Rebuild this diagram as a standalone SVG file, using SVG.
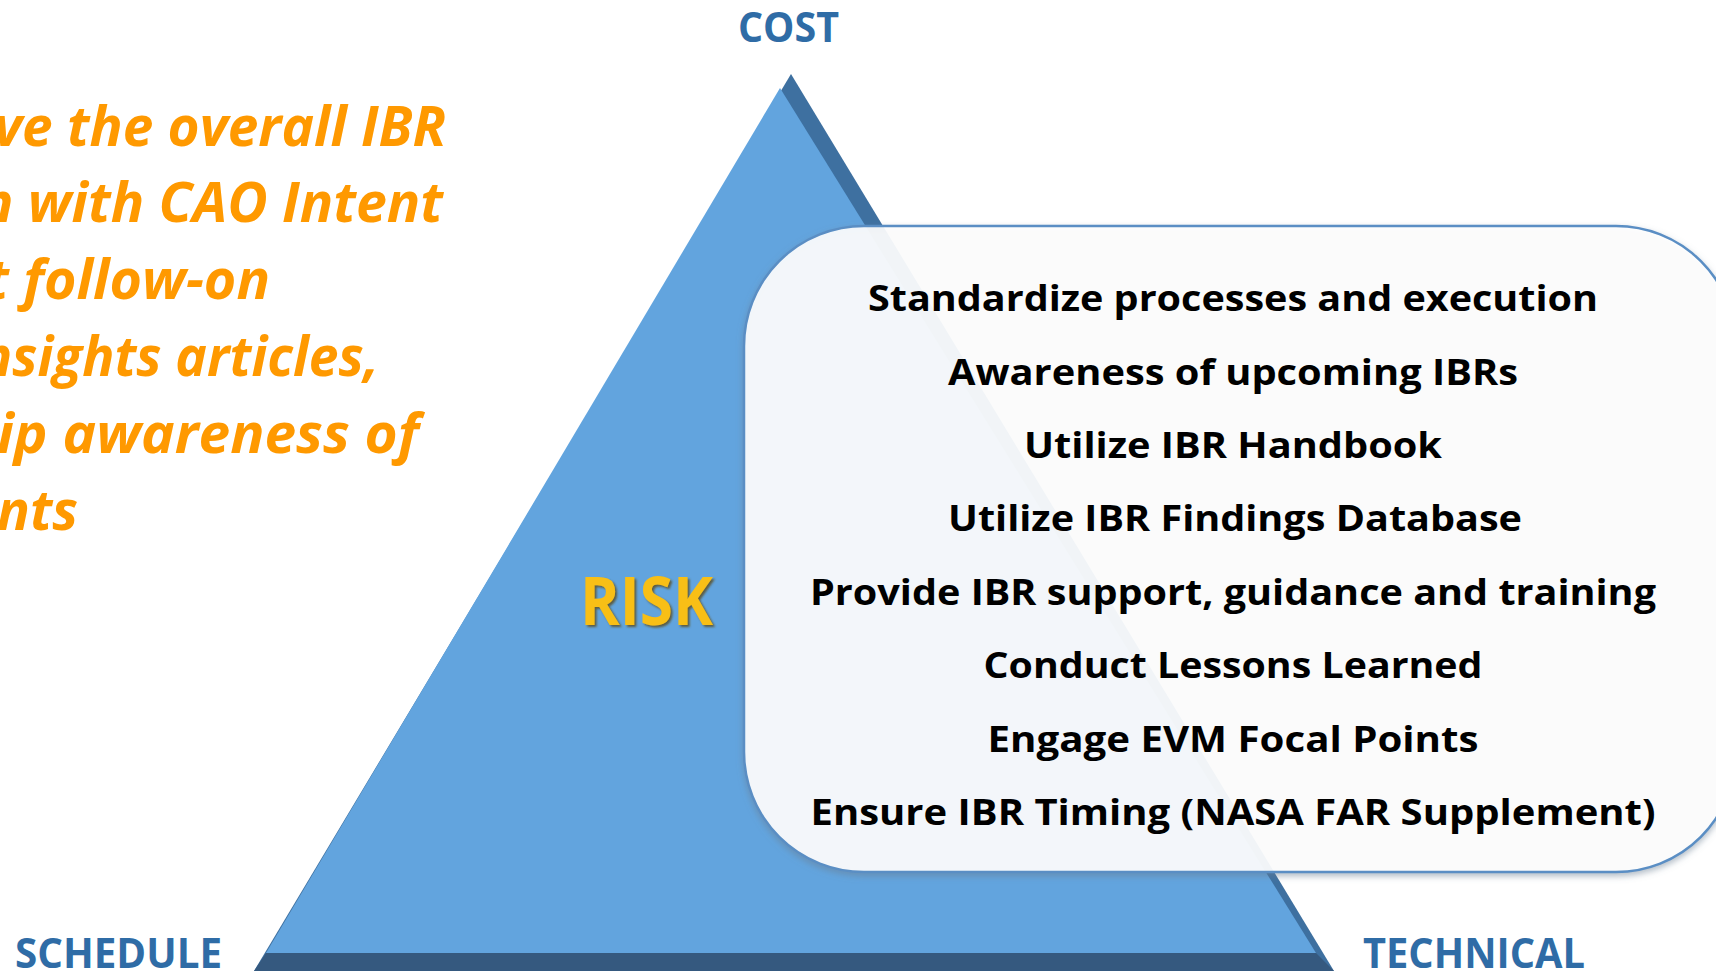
<svg xmlns="http://www.w3.org/2000/svg" width="1716" height="971" viewBox="0 0 1716 971">
<defs>
<style>
.lbl{font-family:"Open Sans","Liberation Sans",sans-serif;font-weight:700;fill:#2f6ca6;font-size:42px}
.item{font-family:"Open Sans","Liberation Sans",sans-serif;font-weight:700;fill:#000;font-size:35px;text-anchor:middle}
.goal{font-family:"Open Sans","Liberation Sans",sans-serif;font-weight:700;font-style:italic;fill:#ff9900;font-size:56px}
</style>
<filter id="boxShadow" x="-5%" y="-5%" width="110%" height="115%">
<feDropShadow dx="0" dy="3" stdDeviation="3" flood-color="#6a7d92" flood-opacity="0.55"/>
</filter>
<filter id="riskShadow" x="-10%" y="-20%" width="130%" height="150%">
<feDropShadow dx="2" dy="2" stdDeviation="1.2" flood-color="#5a4a18" flood-opacity="0.8"/>
</filter>
</defs>
<rect width="1716" height="971" fill="#ffffff"/>

<g id="goal-text">
<text class="goal" x="-6" y="146" textLength="452" lengthAdjust="spacingAndGlyphs">ve the overall IBR</text>
<text class="goal" x="-20" y="222" textLength="463" lengthAdjust="spacingAndGlyphs">n with CAO Intent</text>
<text class="goal" x="-14" y="299" textLength="284" lengthAdjust="spacingAndGlyphs">t follow-on</text>
<text class="goal" x="-20" y="376" textLength="399" lengthAdjust="spacingAndGlyphs">nsights articles,</text>
<text class="goal" x="-3" y="453" textLength="422" lengthAdjust="spacingAndGlyphs">ip awareness of</text>
<text class="goal" x="-3" y="530" textLength="81" lengthAdjust="spacingAndGlyphs">nts</text>
</g>

<g id="triangle">
<polygon points="791,74 254,971 1334,971" fill="#3e70a0"/>
<polygon points="266,953 1316,953 1334,971 254,971" fill="#35597f"/>
<polygon points="780,88 266,953 1316,953" fill="#62a4de"/>
<text id="risk" x="580" y="625" textLength="133" lengthAdjust="spacingAndGlyphs" filter="url(#riskShadow)" style="font-family:'Open Sans','Liberation Sans',sans-serif;font-weight:700;font-size:66px;fill:#f8bf17">RISK</text>
</g>

<g id="cost"><text class="lbl" x="738" y="42" textLength="101" lengthAdjust="spacingAndGlyphs">COST</text></g>
<g id="schedule"><text class="lbl" x="15" y="968" textLength="207" lengthAdjust="spacingAndGlyphs">SCHEDULE</text></g>
<g id="technical"><text class="lbl" x="1363" y="968" textLength="222" lengthAdjust="spacingAndGlyphs">TECHNICAL</text></g>

<g id="actions">
<rect x="744" y="226" width="992" height="646" rx="120" ry="120" fill="#ffffff" fill-opacity="0.9" stroke="#5a8ec4" stroke-width="2.5" filter="url(#boxShadow)"/>
<text class="item" x="1233" y="311" textLength="730" lengthAdjust="spacingAndGlyphs">Standardize processes and execution</text>
<text class="item" x="1233" y="385" textLength="570" lengthAdjust="spacingAndGlyphs">Awareness of upcoming IBRs</text>
<text class="item" x="1233" y="458" textLength="418" lengthAdjust="spacingAndGlyphs">Utilize IBR Handbook</text>
<text class="item" x="1235" y="531" textLength="574" lengthAdjust="spacingAndGlyphs">Utilize IBR Findings Database</text>
<text class="item" x="1233" y="605" textLength="846" lengthAdjust="spacingAndGlyphs">Provide IBR support, guidance and training</text>
<text class="item" x="1233" y="678" textLength="499" lengthAdjust="spacingAndGlyphs">Conduct Lessons Learned</text>
<text class="item" x="1233" y="752" textLength="491" lengthAdjust="spacingAndGlyphs">Engage EVM Focal Points</text>
<text class="item" x="1233" y="825" textLength="845" lengthAdjust="spacingAndGlyphs">Ensure IBR Timing (NASA FAR Supplement)</text>
</g>
<g id="connectors"/>
</svg>
